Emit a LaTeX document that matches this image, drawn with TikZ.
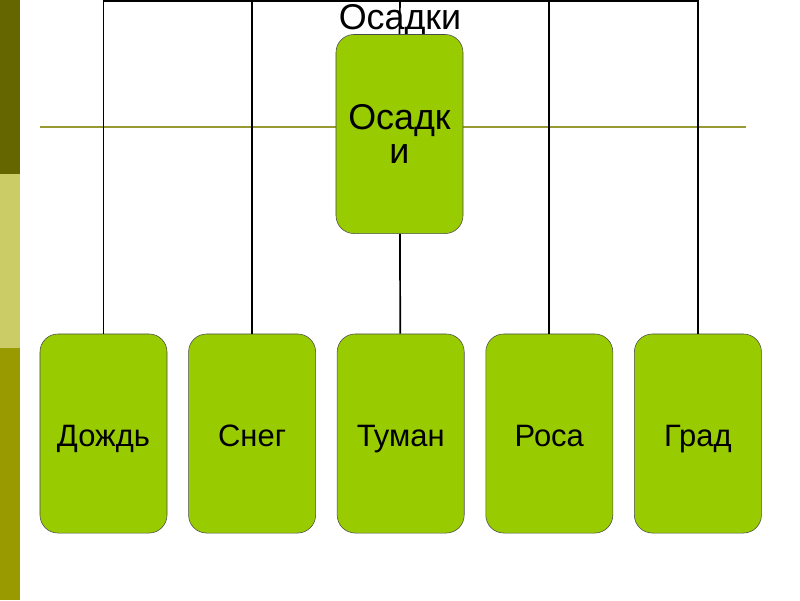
\documentclass[tikz,border=0pt]{standalone}
\usepackage{fontspec}
\setmainfont{Liberation Sans}
\usetikzlibrary{positioning}
\definecolor{BoxGreen}{HTML}{99CC00}
\definecolor{BandA}{HTML}{666600}
\definecolor{BandB}{HTML}{CCCC66}
\definecolor{BandC}{HTML}{999900}
\definecolor{RuleOlive}{HTML}{999933}
\tikzset{
  basebox/.style={draw=black!70, thin, rounded corners=0.45cm, fill=BoxGreen,
    align=center, minimum width=3.175cm, minimum height=4.975cm, inner sep=0pt},
  gbox/.style={basebox, font=\fontsize{22}{26}\selectfont,
    text height=18pt, text depth=0pt},
  tbox/.style={basebox, font=\fontsize{25.5}{24}\selectfont},
  link/.style={draw=black, line width=1.2pt},
}
\begin{document}
\begin{tikzpicture}[x=0.025cm, y=-0.025cm, node distance=0.525cm]
    \useasboundingbox (0,0) rectangle (800,600);
    % side bands
    \fill[BandA] (0,0) rectangle (20,174);
    \fill[BandB] (0,174) rectangle (20,348);
    \fill[BandC] (0,348) rectangle (20,600);
    \draw[RuleOlive, thick] (40,127) -- (746,127);
    \node[font=\fontsize{25.5}{28}\selectfont] (title) at (400,21) {Осадки};
    \node[tbox] (precip) at (399.5,134) {Осадк\\и};
    \node[gbox] (rain) at (103.5,433.5) {Дождь};
    \node[gbox, right=of rain] (snow) {Снег};
    \node[gbox, right=of snow] (fog) {Туман};
    \node[gbox, right=of fog] (dew) {Роса};
    \node[gbox, right=of dew] (hail) {Град};
    \coordinate (top) at (400,1);
    \draw[link] (rain.north) -- (rain.north |- top) -- (hail.north |- top) -- (hail.north);
    \foreach \n in {snow, dew} \draw[link] (\n.north) -- (\n.north |- top);
    \draw[link] (precip.north) -- (top); \draw[link] (precip) -- (fog);
  \end{tikzpicture}
\end{document}
